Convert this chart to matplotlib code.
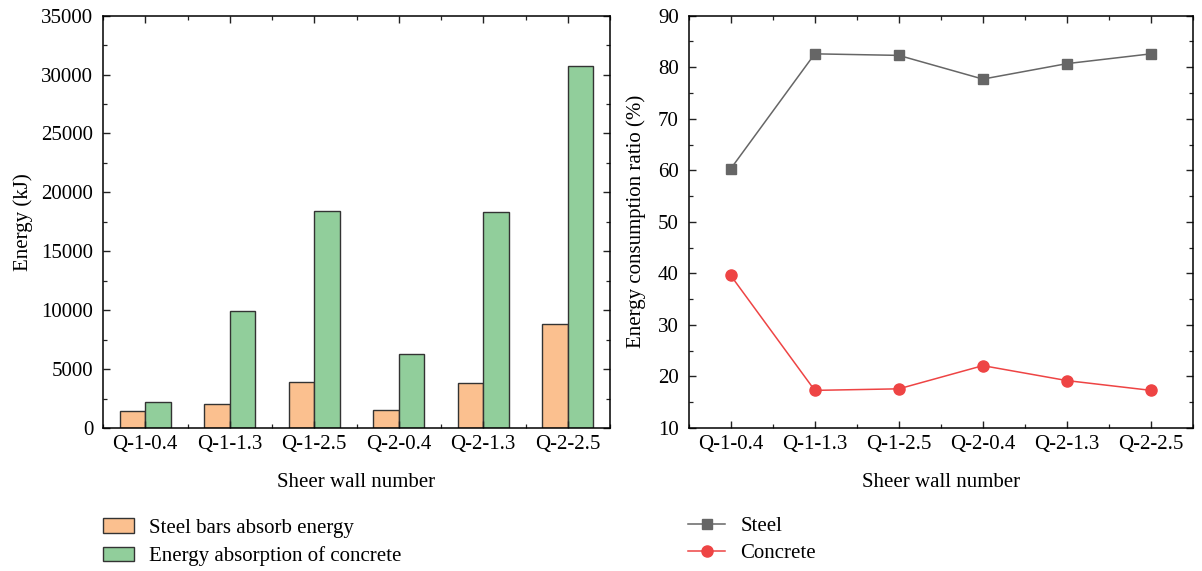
import matplotlib.pyplot as plt
import numpy as np
from matplotlib.ticker import MultipleLocator

walls = ["Q-1-0.4", "Q-1-1.3", "Q-1-2.5", "Q-2-0.4", "Q-2-1.3", "Q-2-2.5"]
steel_energy = [1410, 2040, 3930, 1500, 3850, 8800]
concrete_energy = [2180, 9900, 18380, 6310, 18300, 30770]
steel_ratio = [60.3, 82.6, 82.3, 77.7, 80.7, 82.6]
concrete_ratio = [39.6, 17.3, 17.6, 22.1, 19.2, 17.3]

plt.rcParams["font.family"] = ["Liberation Serif", "DejaVu Serif"]
plt.rcParams["font.size"] = 15
plt.rcParams["axes.linewidth"] = 1.1

W, H = 1202, 571
fig = plt.figure(figsize=(W / 100, H / 100), dpi=100)

def px_axes(x0, x1, y0, y1):
    return fig.add_axes([x0 / W, 1 - y1 / H, (x1 - x0) / W, (y1 - y0) / H])

def style_ticks(ax):
    ax.tick_params(which="both", direction="in", top=True, right=True, color="#222222")
    ax.tick_params(which="major", length=5, width=1.0)
    ax.tick_params(which="minor", length=3, width=0.9)
    ax.tick_params(axis="x", which="major", pad=5)
    ax.tick_params(axis="y", which="major", pad=7)

x = np.arange(len(walls))
bw = 0.3

# energy absorbed by steel and concrete
ax1 = px_axes(103, 610, 15.7, 428)
ax1.bar(x - bw / 2, steel_energy, bw, color="#FBC08F", edgecolor="#333333",
        linewidth=1.0, label="Steel bars absorb energy")
ax1.bar(x + bw / 2, concrete_energy, bw, color="#91CE9B", edgecolor="#333333",
        linewidth=1.0, label="Energy absorption of concrete")
ax1.set_xlim(-0.5, 5.5)
ax1.set_ylim(0, 35000)
ax1.set_xticks(x)
ax1.set_xticklabels(walls)
ax1.xaxis.set_minor_locator(MultipleLocator(0.5))
ax1.yaxis.set_major_locator(MultipleLocator(5000))
ax1.yaxis.set_minor_locator(MultipleLocator(2500))
ax1.set_xlabel("Sheer wall number", labelpad=14)
ax1.set_ylabel("Energy (kJ)", labelpad=6)
style_ticks(ax1)
ax1.legend(loc="upper left", bbox_to_anchor=(95 / W, 1 - 510 / H),
           bbox_transform=fig.transFigure, frameon=False,
           handlelength=1.45, handleheight=0.7, handletextpad=0.75,
           labelspacing=0.4, borderaxespad=0)

# share of dissipated energy
ax2 = px_axes(688.7, 1193, 15.7, 428)
ax2.plot(x, steel_ratio, color="#666666", linewidth=1.1, marker="s",
         markersize=7.5, label="Steel")
ax2.plot(x, concrete_ratio, color="#EE4444", linewidth=1.1, marker="o",
         markersize=8, label="Concrete")
ax2.set_xlim(-0.5, 5.5)
ax2.set_ylim(10, 90)
ax2.set_xticks(x)
ax2.set_xticklabels(walls)
ax2.xaxis.set_minor_locator(MultipleLocator(0.5))
ax2.yaxis.set_major_locator(MultipleLocator(10))
ax2.yaxis.set_minor_locator(MultipleLocator(5))
ax2.set_xlabel("Sheer wall number", labelpad=14)
ax2.set_ylabel("Energy consumption ratio (%)", labelpad=9)
style_ticks(ax2)
ax2.legend(loc="upper left", bbox_to_anchor=(680 / W, 1 - 508 / H),
           bbox_transform=fig.transFigure, frameon=False,
           handlelength=1.75, handletextpad=0.75, labelspacing=0.35,
           borderaxespad=0)

fig.savefig("out.png", dpi=100)
